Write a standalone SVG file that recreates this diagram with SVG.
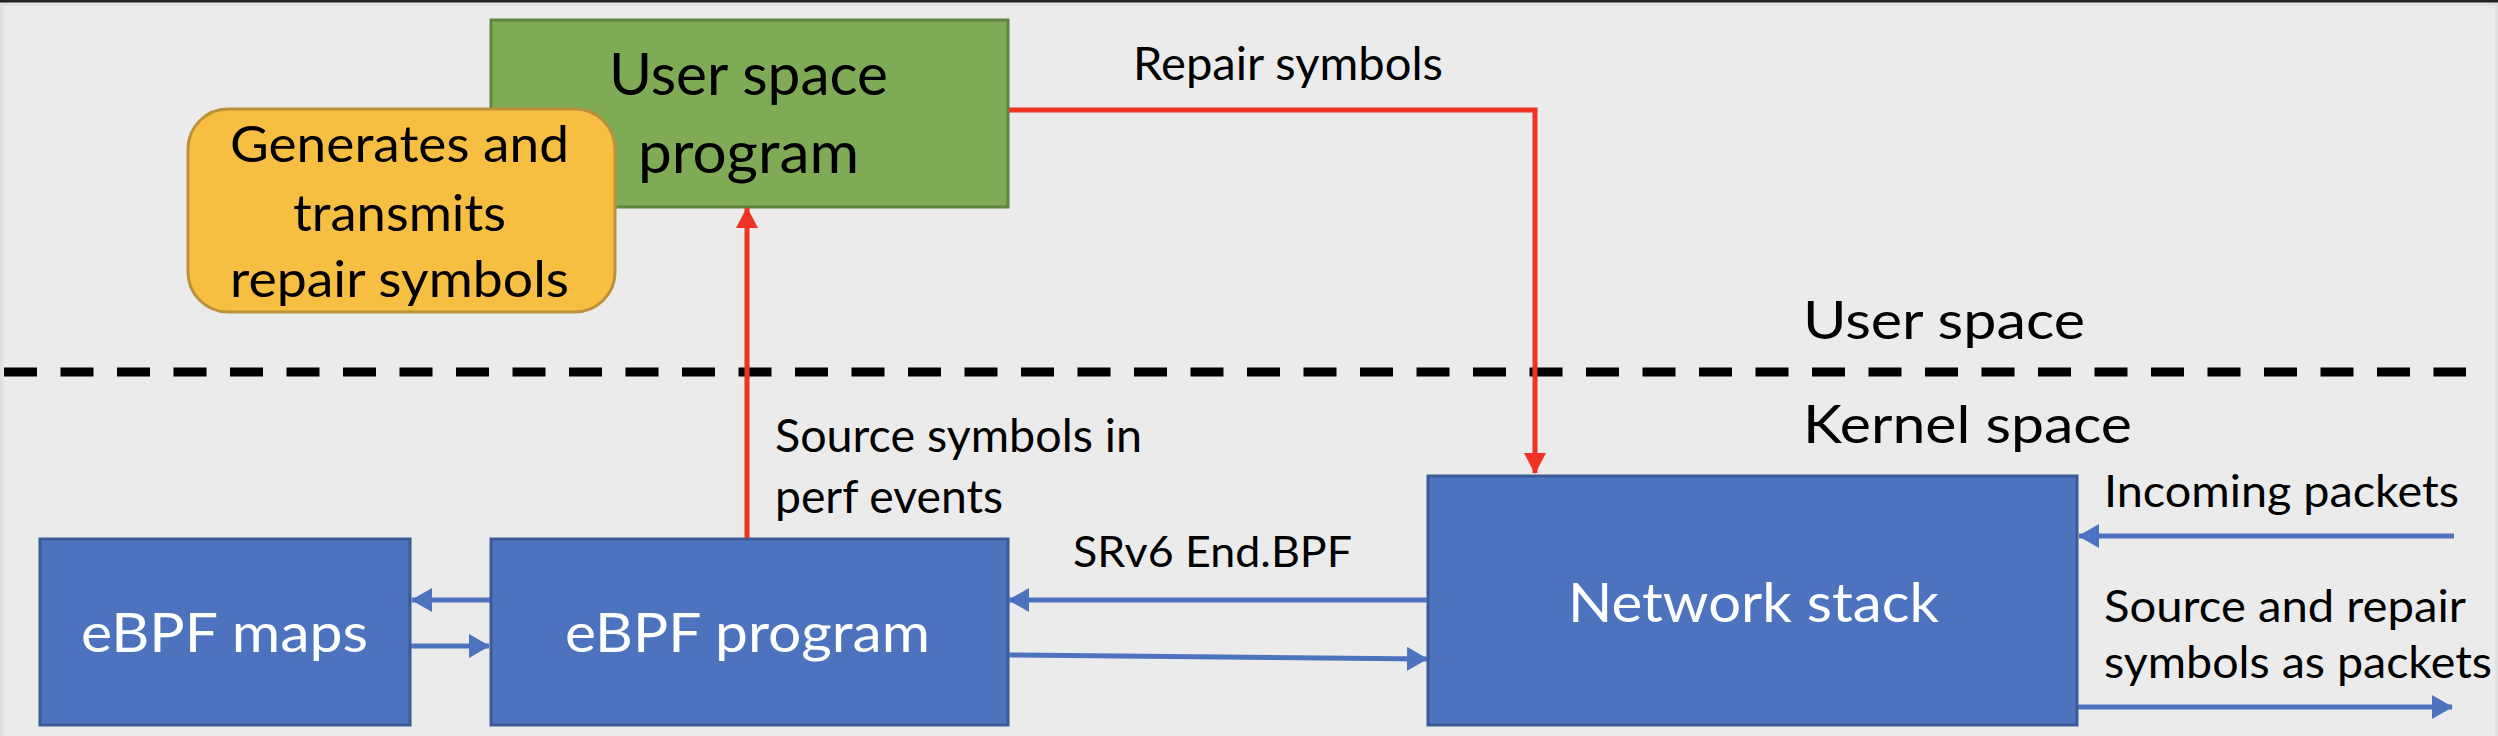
<svg xmlns="http://www.w3.org/2000/svg" width="2498" height="736" viewBox="0 0 2498 736">
  <defs>
    <style>
      .t { font-family: Lato, "Open Sans", "Liberation Sans", sans-serif; fill: #000; }
      .w { font-family: Lato, "Open Sans", "Liberation Sans", sans-serif; fill: #fff; }
      .blue { fill: #4e73be; stroke: #3b5a96; stroke-width: 3; }
      .red { stroke: #ee3323; stroke-width: 5; fill: none; }
      .bl { stroke: #4e73be; stroke-width: 5; fill: none; }
    </style>
    <marker id="ar" markerUnits="userSpaceOnUse" markerWidth="22" markerHeight="22" refX="20" refY="11" orient="auto">
      <path d="M0,0 L21,11 L0,22 z" fill="#ee3323"/>
    </marker>
    <marker id="ab" markerUnits="userSpaceOnUse" markerWidth="22" markerHeight="24" refX="20" refY="12" orient="auto">
      <path d="M0,0 L21,12 L0,24 z" fill="#4e73be"/>
    </marker>
  </defs>

  <rect x="0" y="0" width="2498" height="736" fill="#ebebeb"/>
  <rect x="0" y="2" width="2498" height="4" fill="#e0e0e0"/>
  <rect x="0" y="0" width="3" height="736" fill="#e0e0e0"/>
  <rect x="2495" y="0" width="3" height="736" fill="#e0e0e0"/>
  <rect x="0" y="0" width="2498" height="2.5" fill="#222"/>

  <!-- boundary -->
  <g id="boundary">
    <line x1="4" y1="372" x2="2466" y2="372" stroke="#000" stroke-width="9" stroke-dasharray="33 23.5"/>
    <text class="t" x="1803" y="339" font-size="53" textLength="282" lengthAdjust="spacingAndGlyphs">User space</text>
    <text class="t" x="1803" y="443" font-size="53" textLength="329" lengthAdjust="spacingAndGlyphs">Kernel space</text>
  </g>

  <g id="user-program">
    <rect x="491" y="20" width="517" height="187" fill="#80ab56" stroke="#5f8540" stroke-width="3"/>
    <text class="t" x="609" y="95" font-size="58" textLength="279" lengthAdjust="spacingAndGlyphs">User space</text>
    <text class="t" x="638" y="173" font-size="58" textLength="221" lengthAdjust="spacingAndGlyphs">program</text>
  </g>

  <g id="note">
    <rect x="188" y="109" width="427" height="203" rx="40" ry="40" fill="#f6bf41" stroke="#bb913a" stroke-width="3"/>
    <text class="t" x="230" y="162" font-size="50" textLength="339" lengthAdjust="spacingAndGlyphs">Generates and</text>
    <text class="t" x="293" y="231" font-size="50" textLength="213" lengthAdjust="spacingAndGlyphs">transmits</text>
    <text class="t" x="230" y="297" font-size="50" textLength="339" lengthAdjust="spacingAndGlyphs">repair symbols</text>
  </g>

  <g id="ebpf-maps">
    <rect class="blue" x="40" y="539" width="370" height="186"/>
    <text class="w" x="81" y="652" font-size="54" textLength="287" lengthAdjust="spacingAndGlyphs">eBPF maps</text>
  </g>

  <g id="ebpf-program">
    <rect class="blue" x="491" y="539" width="517" height="186"/>
    <text class="w" x="565" y="652" font-size="54" textLength="365" lengthAdjust="spacingAndGlyphs">eBPF program</text>
  </g>

  <g id="network-stack">
    <rect class="blue" x="1428" y="476" width="649" height="249"/>
    <text class="w" x="1568" y="622" font-size="54" textLength="371" lengthAdjust="spacingAndGlyphs">Network stack</text>
  </g>

  <g id="connectors">
    <line class="red" x1="747" y1="538" x2="747" y2="208" marker-end="url(#ar)"/>
    <polyline class="red" points="1009,110 1535,110 1535,473" marker-end="url(#ar)"/>
    <line class="bl" x1="490" y1="600" x2="412" y2="600" marker-end="url(#ab)"/>
    <line class="bl" x1="411" y1="646" x2="489" y2="646" marker-end="url(#ab)"/>
    <line class="bl" x1="1427" y1="600" x2="1009" y2="600" marker-end="url(#ab)"/>
    <line class="bl" x1="1009" y1="655" x2="1427" y2="659" marker-end="url(#ab)"/>
    <line class="bl" x1="2454" y1="536" x2="2079" y2="536" marker-end="url(#ab)"/>
    <line class="bl" x1="2078" y1="707" x2="2452" y2="707" marker-end="url(#ab)"/>
  </g>

  <g id="labels">
    <text class="t" x="1133" y="80" font-size="47" textLength="310" lengthAdjust="spacingAndGlyphs">Repair symbols</text>
    <text class="t" x="775" y="452" font-size="46" textLength="367" lengthAdjust="spacingAndGlyphs">Source symbols in</text>
    <text class="t" x="775" y="513" font-size="46" textLength="228" lengthAdjust="spacingAndGlyphs">perf events</text>
    <text class="t" x="1073" y="567" font-size="43" textLength="279" lengthAdjust="spacingAndGlyphs">SRv6 End.BPF</text>
    <text class="t" x="2104" y="507" font-size="44" textLength="355" lengthAdjust="spacingAndGlyphs">Incoming packets</text>
    <text class="t" x="2104" y="622" font-size="44" textLength="362" lengthAdjust="spacingAndGlyphs">Source and repair</text>
    <text class="t" x="2104" y="678" font-size="44" textLength="388" lengthAdjust="spacingAndGlyphs">symbols as packets</text>
  </g>
</svg>
